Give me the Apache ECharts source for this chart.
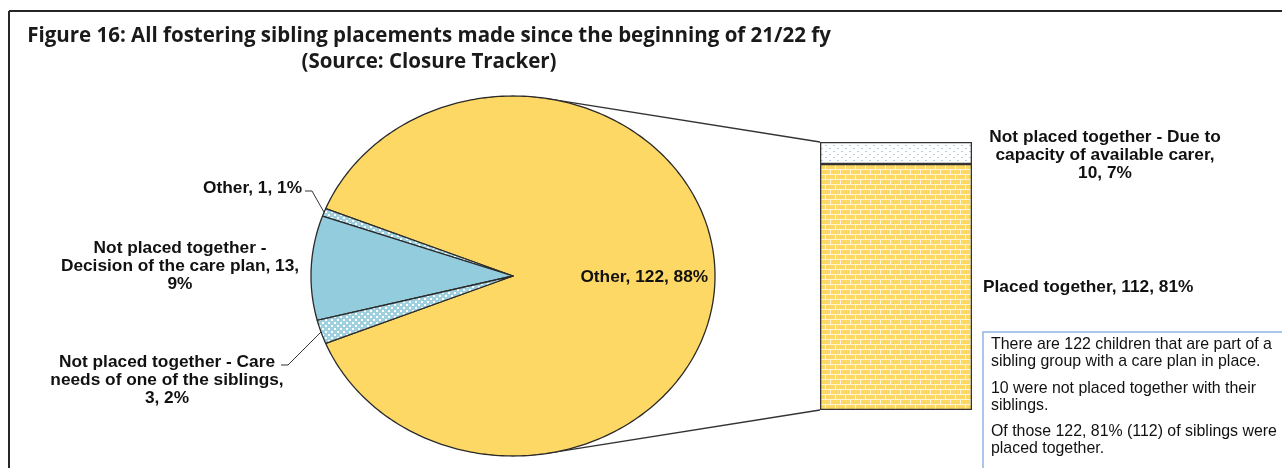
<!DOCTYPE html>
<html>
<head>
<meta charset="utf-8">
<script src="https://cdn.jsdelivr.net/npm/echarts@6/dist/echarts.min.js"></script>
<style>
  html, body { margin: 0; padding: 0; background: #fff; }
  #main { width: 1282px; height: 468px; }
</style>
</head>
<body>
<div id="main"></div>
<script>
// pie: all fostering sibling placements
const pieNames = ['Other', 'Other', 'Not placed together -\nDecision of the care plan', 'Not placed together - Care\nneeds of one of the siblings'];
const pieValues = [122, 1, 13, 3];
const pieLabelFormat = ['{n}, {v}, {p}%', '{n}, {v}, {p}%', '{n}, {v},\n{p}%', '{n},\n{v}, {p}%'];

// bar: the "Other, 122" slice split out
const barCategory = ['Other'];
const barNames = ['Placed together', 'Not placed together - Due to\ncapacity of available carer'];
const barValues = [112, 10];
const barLabelFormat = ['{n}, {v}, {p}%', '{n},\n{v}, {p}%'];

const total = pieValues.reduce((a, b) => a + b, 0);
const pct = v => Math.round(v / total * 100);
const fmt = (f, n, v) => f.replace('{n}', n).replace('{v}', v).replace('{p}', pct(v));

// layout
const PIE = { left: 311, top: 96, width: 404, height: 360 };
const BAR = { left: 820, top: 142, width: 152, height: 268 };
const labelFont = { fontFamily: 'Liberation Sans', fontWeight: 'bold', fontSize: 17.3, lineHeight: 18, fill: '#111' };

function makePattern(w, h, draw) {
  const c = document.createElement('canvas');
  c.width = w; c.height = h;
  draw(c.getContext('2d'));
  return { image: c, repeat: 'repeat' };
}
const dotFill = makePattern(6, 6, ctx => {
  ctx.fillStyle = '#9fd0e0'; ctx.fillRect(0, 0, 6, 6);
  ctx.fillStyle = '#ffffff'; ctx.fillRect(1, 1, 2, 2); ctx.fillRect(4, 4, 2, 2);
});
const sparseDotFill = makePattern(8, 6, ctx => {
  ctx.fillStyle = '#ffffff'; ctx.fillRect(0, 0, 8, 6);
  ctx.fillStyle = '#b3cfea'; ctx.fillRect(1, 1, 2, 1); ctx.fillRect(5, 4, 2, 1);
});
const brickFill = makePattern(10, 10, ctx => {
  ctx.fillStyle = '#fdd865'; ctx.fillRect(0, 0, 10, 10);
  ctx.fillStyle = '#fff6d8';
  ctx.fillRect(0, 4, 10, 1); ctx.fillRect(0, 9, 10, 1);
  ctx.fillRect(0, 0, 1, 4); ctx.fillRect(5, 5, 1, 4);
});
const sliceFill = ['#fdd865', dotFill, '#93cddd', dotFill];

// split slice faces the bar, others follow counter-clockwise
const sliceStart = [];
let acc = -pieValues[0] / total * 180;
pieValues.forEach(v => { sliceStart.push(acc); acc += v / total * 360; });

const pieLabelLayout = [
  { inside: true },
  { x: 302, y: 188, align: 'right', leader: [[305, 191], [312, 191]] },
  { x: 180, y: 266, align: 'center' },
  { x: 167, y: 380, align: 'center', leader: [[281, 365], [288, 365]] }
];

function renderSlice(params, api) {
  const i = params.dataIndex;
  const a0 = sliceStart[i];
  const a1 = a0 + api.value(1) / total * 360;
  const pts = [api.coord([0, 0])];
  const n = Math.max(2, Math.ceil(a1 - a0));
  for (let k = 0; k <= n; k++) {
    const a = (a0 + (a1 - a0) * k / n) * Math.PI / 180;
    pts.push(api.coord([Math.cos(a), Math.sin(a)]));
  }
  const children = [{
    type: 'polygon',
    shape: { points: pts },
    style: { fill: sliceFill[i], stroke: '#2a2a2a', lineWidth: 1.3, lineJoin: 'round' }
  }];
  const mid = (a0 + a1) / 2 * Math.PI / 180;
  const lay = pieLabelLayout[i];
  const text = fmt(pieLabelFormat[i], pieNames[i], api.value(1));
  let tx = lay.x, ty = lay.y, align = lay.align;
  if (lay.inside) {
    const p = api.coord([0.65 * Math.cos(mid), 0.65 * Math.sin(mid)]);
    tx = p[0]; ty = p[1] + 1; align = 'center';
  }
  if (lay.leader) {
    children.push({
      type: 'polyline',
      shape: { points: lay.leader.concat([api.coord([Math.cos(mid), Math.sin(mid)])]) },
      style: { stroke: '#333', lineWidth: 1, fill: null }
    });
  }
  children.push({
    type: 'text', x: tx, y: ty, z2: 10,
    style: Object.assign({ text: text, align: align, verticalAlign: 'middle' }, labelFont)
  });
  return { type: 'group', children: children };
}

const chart = echarts.init(document.getElementById('main'));

const barSum = barValues.reduce((a, b) => a + b, 0);
const notes = [
  'There are ' + barSum + ' children that are part of a\nsibling group with a care plan in place.',
  barValues[1] + ' were not placed together with their\nsiblings.',
  'Of those ' + barSum + ', ' + pct(barValues[0]) + '% (' + barValues[0] + ') of siblings were\nplaced together.'
];
const noteY = [353, 397, 440];

const option = {
  animation: false,
  backgroundColor: '#fff',
  title: {
    text: 'Figure 16: All fostering sibling placements made since the beginning of 21/22 fy\n(Source: Closure Tracker)',
    left: 424, top: 18, textAlign: 'center',
    textStyle: { fontFamily: 'Open Sans', fontWeight: 'bold', fontSize: 20.5, lineHeight: 26, color: '#1a1a1a' }
  },
  grid: [
    { left: PIE.left, top: PIE.top, width: PIE.width, height: PIE.height },
    { left: BAR.left, top: BAR.top, width: BAR.width, height: BAR.height }
  ],
  xAxis: [
    { type: 'value', gridIndex: 0, min: -1, max: 1, show: false },
    { type: 'category', gridIndex: 1, data: barCategory, show: false }
  ],
  yAxis: [
    { type: 'value', gridIndex: 0, min: -1, max: 1, show: false },
    { type: 'value', gridIndex: 1, min: 0, max: barSum, show: false }
  ],
  series: [
    {
      type: 'custom',
      xAxisIndex: 0, yAxisIndex: 0,
      renderItem: renderSlice,
      data: pieValues.map((v, i) => [i, v])
    },
    {
      type: 'bar', name: barNames[0], xAxisIndex: 1, yAxisIndex: 1, stack: 'split',
      barWidth: '100%', data: [barValues[0]],
      itemStyle: { color: brickFill, borderColor: '#333', borderWidth: 1.3 },
      label: {
        show: true, position: [163, '50%'], align: 'left', verticalAlign: 'middle',
        formatter: p => fmt(barLabelFormat[0], barNames[0], p.value),
        fontFamily: 'Liberation Sans', fontWeight: 'bold', fontSize: 17.3, lineHeight: 18, color: '#111'
      }
    },
    {
      type: 'bar', name: barNames[1], xAxisIndex: 1, yAxisIndex: 1, stack: 'split',
      barWidth: '100%', data: [barValues[1]],
      itemStyle: { color: sparseDotFill, borderColor: '#333', borderWidth: 1.3 },
      label: {
        show: true, position: [285, '60%'], align: 'center', verticalAlign: 'middle',
        formatter: p => fmt(barLabelFormat[1], barNames[1], p.value),
        fontFamily: 'Liberation Sans', fontWeight: 'bold', fontSize: 17.3, lineHeight: 18, color: '#111'
      }
    }
  ]
};
chart.setOption(option);

// connector lines: tangents from the bar corners to the pie ellipse
function tangentPoint(px, py, upper) {
  const cx = chart.convertToPixel({ xAxisIndex: 0, yAxisIndex: 0 }, [0, 0]);
  const rx = PIE.width / 2, ry = PIE.height / 2;
  const ux = (px - cx[0]) / rx, uy = (cx[1] - py) / ry;
  const d = Math.sqrt(ux * ux + uy * uy);
  const t = Math.atan2(uy, ux) + (upper ? 1 : -1) * Math.acos(1 / d);
  return chart.convertToPixel({ xAxisIndex: 0, yAxisIndex: 0 }, [Math.cos(t), Math.sin(t)]);
}
const topCorner = [BAR.left, BAR.top];
const botCorner = [BAR.left, BAR.top + BAR.height];
const tTop = tangentPoint(topCorner[0], topCorner[1], true);
const tBot = tangentPoint(botCorner[0], botCorner[1], false);

chart.setOption({
  graphic: [
    { type: 'line', shape: { x1: 9, y1: 11, x2: 1282, y2: 11 }, style: { stroke: '#262626', lineWidth: 2 } },
    { type: 'line', shape: { x1: 9, y1: 11, x2: 9, y2: 468 }, style: { stroke: '#262626', lineWidth: 2 } },
    { type: 'line', shape: { x1: tTop[0], y1: tTop[1], x2: topCorner[0], y2: topCorner[1] }, style: { stroke: '#333', lineWidth: 1.3 } },
    { type: 'line', shape: { x1: tBot[0], y1: tBot[1], x2: botCorner[0], y2: botCorner[1] }, style: { stroke: '#333', lineWidth: 1.3 } },
    { type: 'rect', shape: { x: 983, y: 332, width: 320, height: 160 }, style: { fill: '#fff', stroke: '#8eb4e3', lineWidth: 1.5 } }
  ].concat(notes.map((t, i) => ({
    type: 'text', x: 991, y: noteY[i],
    style: { text: t, fontFamily: 'Liberation Sans', fontSize: 15.9, lineHeight: 17, fill: '#111', verticalAlign: 'middle' }
  })))
});
</script>
</body>
</html>
